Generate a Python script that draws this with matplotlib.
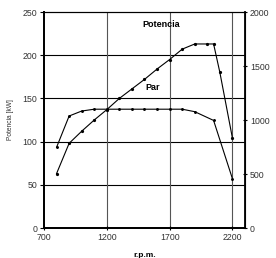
import matplotlib
matplotlib.use("Agg")
import matplotlib.pyplot as plt

plt.rcParams["font.family"] = ["Liberation Sans", "DejaVu Sans"]

# power curve (left axis, kW)
rpm_power = [800, 900, 1000, 1100, 1200, 1300, 1400, 1500, 1600, 1700, 1800, 1900, 2000, 2050, 2100, 2200]
power_kw = [63, 98, 112, 125, 137, 150, 161, 172, 184, 195, 207, 213, 213, 213, 180, 104]

# torque curve (right axis, Nm)
rpm_torque = [800, 900, 1000, 1100, 1200, 1300, 1400, 1500, 1600, 1700, 1800, 1900, 2050, 2200]
torque_nm = [747, 1037, 1083, 1100, 1100, 1100, 1100, 1100, 1100, 1100, 1100, 1077, 996, 456]

x_ticks = [700, 1200, 1700, 2200]
y_ticks = [0, 50, 100, 150, 200, 250]
y2_ticks = [0, 500, 1000, 1500, 2000]

fig = plt.figure(figsize=(2.76, 2.58), dpi=100)
ax = fig.add_axes([44 / 276, 1 - 228 / 258, 201 / 276, 216 / 258])
ax2 = ax.twinx()

ax.set_xlim(700, 2300)
ax.set_ylim(0, 250)
ax2.set_ylim(0, 2000)
ax.set_xticks(x_ticks)
ax.set_yticks(y_ticks)
ax2.set_yticks(y2_ticks)

for y in y_ticks[1:-1]:
    ax.axhline(y, color="black", lw=0.8, zorder=0)
for x in x_ticks[1:]:
    ax.axvline(x, color="#555555", lw=0.8, zorder=0)

ax.plot(rpm_power, power_kw, color="black", lw=0.8, marker="o", ms=1.3)
ax2.plot(rpm_torque, torque_nm, color="black", lw=0.8, marker="o", ms=1.1)

ax.text(1632, 235, "Potencia", fontsize=6.5, fontweight="bold", ha="center", va="center")
ax.text(1561, 163, "Par", fontsize=6.5, fontweight="bold", ha="center", va="center")

ax.set_ylabel("Potencia [kW]", fontsize=4.8, color="#333333", labelpad=6)
ax.set_xlabel("r.p.m.", fontsize=6, fontweight="bold", labelpad=7)

for a in (ax, ax2):
    a.tick_params(labelsize=6.3, colors="black", labelcolor="#333333", length=3, width=0.8, pad=2)
    for s in a.spines.values():
        s.set_linewidth(0.8)
ax.tick_params(axis="x", direction="inout")
ax2.tick_params(axis="y", direction="inout")
ax.spines["left"].set_linewidth(1.3)
ax.spines["bottom"].set_linewidth(1.3)
ax2.spines["right"].set_linewidth(1.3)
ax2.spines["bottom"].set_linewidth(1.3)
ax2.spines["left"].set_linewidth(1.3)

fig.savefig("out.png", dpi=100)
